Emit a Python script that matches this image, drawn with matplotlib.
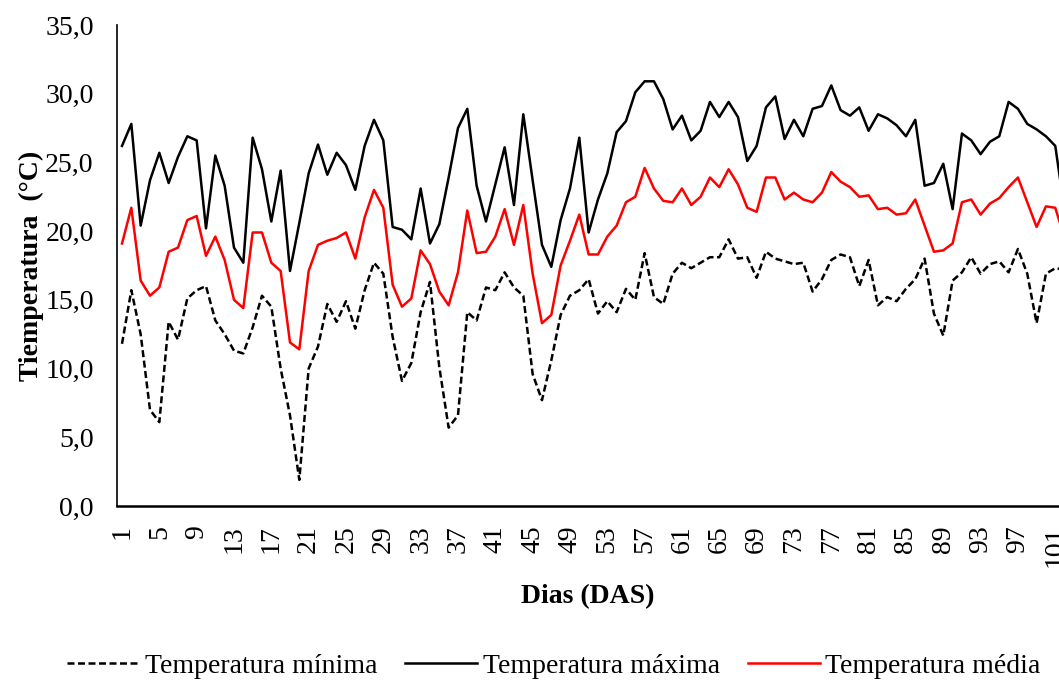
import numpy as np
import matplotlib.pyplot as plt

plt.rcParams['font.family'] = ['Liberation Serif', 'DejaVu Serif']

dias = np.arange(1, 103)

t_max = [26.2, 27.8, 20.4, 23.7, 25.7, 23.5, 25.4, 26.9, 26.6, 20.2,
         25.5, 23.3, 18.8, 17.7, 26.8, 24.5, 20.7, 24.4, 17.1, 20.6,
         24.2, 26.3, 24.1, 25.7, 24.8, 23.0, 26.2, 28.1, 26.6, 20.3,
         20.1, 19.4, 23.1, 19.1, 20.5, 23.9, 27.5, 28.9, 23.3, 20.7,
         23.4, 26.1, 21.9, 28.5, 23.7, 19.0, 17.4, 20.8, 23.1, 26.8,
         19.9, 22.3, 24.2, 27.2, 28.0, 30.1, 30.9, 30.9, 29.6, 27.4,
         28.4, 26.6, 27.3, 29.4, 28.3, 29.4, 28.3, 25.1, 26.2, 29.0,
         29.8, 26.7, 28.1, 26.9, 28.9, 29.1, 30.6, 28.8, 28.4, 29.0,
         27.3, 28.5, 28.2, 27.7, 26.9, 28.1, 23.3, 23.5, 24.9, 21.6,
         27.1, 26.6, 25.6, 26.5, 26.9, 29.4, 28.9, 27.8, 27.4, 26.9,
         26.2, 21.5]

t_med = [19.1, 21.7, 16.4, 15.3, 15.9, 18.5, 18.8, 20.8, 21.1, 18.2,
         19.6, 17.9, 15.0, 14.4, 19.9, 19.9, 17.7, 17.1, 11.9, 11.4,
         17.1, 19.0, 19.3, 19.5, 19.9, 18.0, 21.0, 23.0, 21.7, 16.1,
         14.5, 15.1, 18.6, 17.6, 15.6, 14.6, 17.0, 21.5, 18.4, 18.5,
         19.6, 21.6, 19.0, 21.9, 16.9, 13.3, 13.9, 17.5, 19.3, 21.2,
         18.3, 18.3, 19.6, 20.4, 22.1, 22.5, 24.6, 23.1, 22.2, 22.1,
         23.1, 21.9, 22.5, 23.9, 23.2, 24.5, 23.4, 21.7, 21.4, 23.9,
         23.9, 22.3, 22.8, 22.3, 22.1, 22.8, 24.3, 23.6, 23.2, 22.5,
         22.6, 21.6, 21.7, 21.2, 21.3, 22.3, 20.4, 18.5, 18.6, 19.1,
         22.1, 22.3, 21.2, 22.0, 22.4, 23.2, 23.9, 22.1, 20.3, 21.8,
         21.7, 19.5]

t_min = [11.8, 15.7, 12.5, 7.0, 6.1, 13.4, 12.1, 15.1, 15.7, 16.0,
         13.5, 12.5, 11.3, 11.1, 13.0, 15.3, 14.5, 10.0, 6.6, 1.9,
         10.0, 11.6, 14.7, 13.4, 14.9, 12.9, 15.7, 17.7, 16.9, 12.3,
         9.1, 10.4, 14.1, 16.3, 10.1, 5.7, 6.6, 14.1, 13.5, 15.9,
         15.7, 17.0, 15.9, 15.3, 9.6, 7.7, 10.6, 13.9, 15.3, 15.7,
         16.5, 14.0, 14.9, 14.1, 15.8, 15.0, 18.4, 15.2, 14.7, 16.9,
         17.7, 17.3, 17.7, 18.1, 18.1, 19.4, 18.0, 18.1, 16.6, 18.5,
         18.0, 17.8, 17.6, 17.7, 15.6, 16.5, 17.9, 18.3, 18.1, 16.0,
         17.9, 14.6, 15.2, 14.9, 15.8, 16.5, 18.0, 14.0, 12.4, 16.4,
         17.0, 18.1, 16.9, 17.6, 17.8, 17.0, 18.7, 16.9, 13.3, 16.9,
         17.3, 17.2]

fig = plt.figure(figsize=(10.59, 6.80), dpi=100)
ax = fig.add_axes([0.1108, 0.2559, 0.8892, 0.7074])

ax.plot(dias, t_min, color='black', lw=1.8, linestyle=(0, (2.8, 1.4)), label='Temperatura mínima')
ax.plot(dias, t_max, color='black', lw=1.8, label='Temperatura máxima')
ax.plot(dias, t_med, color='#ff0000', lw=1.8, label='Temperatura média')

ax.set_xlim(0.5, 101.4)
ax.set_ylim(0, 35)
ax.set_yticks(np.arange(0, 36, 5))
ax.set_yticklabels(['{:.1f}'.format(v).replace('.', ',') for v in np.arange(0, 36, 5)])
ax.set_xticks(dias[::4])
ax.set_xticklabels([str(d) for d in dias[::4]], rotation=90)
ax.tick_params(axis='both', length=0, labelsize=20)
ax.tick_params(axis='y', pad=17)
ax.tick_params(axis='x', pad=14)

for s in ['top', 'right']:
    ax.spines[s].set_visible(False)
ax.spines['left'].set_linewidth(1.2)
ax.spines['bottom'].set_linewidth(1.8)

ax.set_xlabel('Dias (DAS)', fontsize=20, fontweight='bold', labelpad=12)
ax.set_ylabel('Tiemperatura  (°C)', fontsize=20, fontweight='bold', labelpad=1)

fig.legend(loc='center', bbox_to_anchor=(0.523, 0.02), ncol=3, frameon=False,
           fontsize=20, handlelength=2.6, handletextpad=0.2, columnspacing=1.0)

fig.savefig('out.png', dpi=100)
